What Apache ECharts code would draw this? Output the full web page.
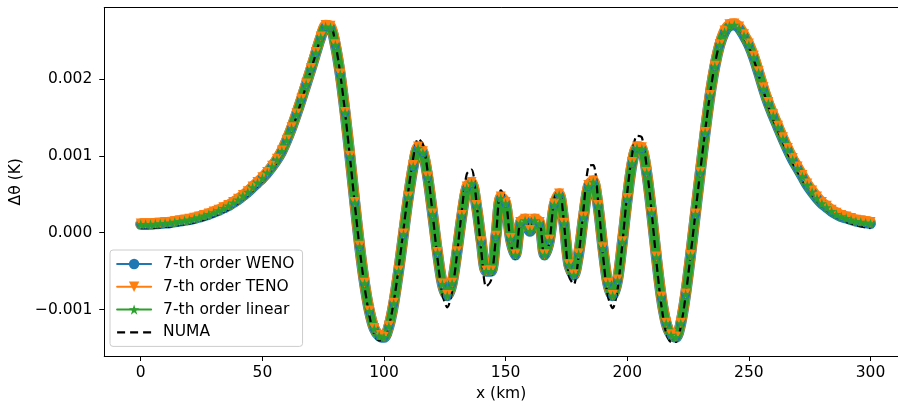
<!DOCTYPE html>
<html>
<head>
<meta charset="utf-8">
<script src="https://cdn.jsdelivr.net/npm/echarts@6.0.0/dist/echarts.min.js"></script>
<style>html,body{margin:0;padding:0;background:#fff;overflow:hidden}#chart{width:898px;height:407px}</style>
</head>
<body>
<div id="chart"></div>
<script>
// x positions (km)
const xKm = [0,2,4,6,8,10,12,14,16,18,20,22,24,26,28,30,32,34,36,38,40,42,44,46,48,50,52,54,56,58,60,62,64,66,68,70,72,74,76,78,80,82,84,86,88,90,92,94,96,98,100,102,104,106,108,110,112,114,116,118,120,122,124,126,128,130,132,134,136,138,140,142,144,146,148,150,152,154,156,158,160,162,164,166,168,170,172,174,176,178,180,182,184,186,188,190,192,194,196,198,200,202,204,206,208,210,212,214,216,218,220,222,224,226,228,230,232,234,236,238,240,242,244,246,248,250,252,254,256,258,260,262,264,266,268,270,272,274,276,278,280,282,284,286,288,290,292,294,296,298,300];
// values in units of 1e-3 K
const wenoVals = [0.11,0.11,0.11,0.115,0.12,0.125,0.13,0.14,0.15,0.16,0.17,0.185,0.20,0.22,0.24,0.265,0.29,0.32,0.35,0.39,0.43,0.48,0.53,0.59,0.65,0.71,0.78,0.86,0.95,1.06,1.20,1.36,1.54,1.73,1.93,2.13,2.34,2.54,2.68,2.67,2.44,2.06,1.56,0.99,0.39,-0.18,-0.66,-1.02,-1.25,-1.34,-1.36,-1.22,-0.92,-0.50,-0.02,0.46,0.86,1.10,1.04,0.72,0.24,-0.26,-0.67,-0.82,-0.66,-0.25,0.22,0.58,0.64,0.35,-0.12,-0.50,-0.50,-0.05,0.45,0.38,-0.08,-0.29,0.12,0.16,0.02,0.16,0.12,-0.29,-0.10,0.36,0.49,0.12,-0.42,-0.55,-0.28,0.20,0.60,0.66,0.35,-0.20,-0.66,-0.82,-0.62,-0.12,0.44,0.90,1.10,1.09,0.78,0.26,-0.32,-0.84,-1.18,-1.33,-1.36,-1.18,-0.80,-0.30,0.24,0.78,1.30,1.78,2.16,2.44,2.61,2.69,2.70,2.66,2.56,2.44,2.28,2.08,1.87,1.68,1.52,1.37,1.22,1.08,0.95,0.84,0.73,0.62,0.53,0.45,0.38,0.33,0.28,0.24,0.21,0.19,0.17,0.15,0.14,0.13,0.12];
const tenoVals = [0.12,0.12,0.12,0.125,0.13,0.135,0.14,0.15,0.16,0.17,0.18,0.195,0.21,0.23,0.25,0.275,0.30,0.33,0.36,0.40,0.44,0.49,0.54,0.60,0.66,0.72,0.79,0.87,0.96,1.07,1.21,1.37,1.55,1.74,1.94,2.14,2.35,2.55,2.70,2.69,2.45,2.07,1.57,1.00,0.40,-0.17,-0.65,-1.01,-1.24,-1.33,-1.35,-1.21,-0.91,-0.49,-0.01,0.47,0.88,1.12,1.06,0.73,0.25,-0.25,-0.66,-0.81,-0.65,-0.24,0.23,0.60,0.66,0.36,-0.11,-0.49,-0.49,-0.04,0.47,0.40,-0.07,-0.28,0.14,0.18,0.04,0.18,0.14,-0.28,-0.09,0.38,0.51,0.13,-0.41,-0.54,-0.27,0.21,0.62,0.68,0.36,-0.19,-0.65,-0.81,-0.61,-0.11,0.45,0.92,1.12,1.11,0.79,0.27,-0.31,-0.83,-1.17,-1.32,-1.35,-1.17,-0.79,-0.29,0.25,0.79,1.31,1.79,2.17,2.45,2.63,2.71,2.72,2.68,2.58,2.46,2.30,2.10,1.89,1.70,1.54,1.39,1.24,1.10,0.97,0.86,0.75,0.64,0.55,0.47,0.40,0.35,0.30,0.26,0.23,0.21,0.19,0.17,0.16,0.15,0.14];
const linearVals = [0.11,0.11,0.11,0.115,0.12,0.125,0.13,0.14,0.15,0.16,0.17,0.185,0.20,0.22,0.24,0.265,0.29,0.32,0.35,0.39,0.43,0.48,0.53,0.59,0.65,0.71,0.78,0.86,0.95,1.06,1.20,1.36,1.54,1.73,1.93,2.13,2.34,2.54,2.68,2.67,2.44,2.06,1.56,0.99,0.39,-0.18,-0.66,-1.02,-1.25,-1.34,-1.36,-1.22,-0.92,-0.50,-0.02,0.46,0.86,1.10,1.04,0.72,0.24,-0.26,-0.67,-0.82,-0.66,-0.25,0.22,0.58,0.64,0.35,-0.12,-0.50,-0.50,-0.05,0.45,0.38,-0.08,-0.29,0.12,0.16,0.02,0.16,0.12,-0.29,-0.10,0.36,0.49,0.12,-0.42,-0.55,-0.28,0.20,0.60,0.66,0.35,-0.20,-0.66,-0.82,-0.62,-0.12,0.44,0.90,1.10,1.09,0.78,0.26,-0.32,-0.84,-1.18,-1.33,-1.36,-1.18,-0.80,-0.30,0.24,0.78,1.30,1.78,2.16,2.44,2.61,2.69,2.70,2.66,2.56,2.44,2.28,2.08,1.87,1.68,1.52,1.37,1.22,1.08,0.95,0.84,0.73,0.62,0.53,0.45,0.38,0.33,0.28,0.24,0.21,0.19,0.17,0.15,0.14,0.13,0.12];
const numaVals = [0.06,0.06,0.06,0.065,0.07,0.075,0.08,0.09,0.10,0.11,0.12,0.135,0.15,0.17,0.19,0.215,0.24,0.27,0.30,0.34,0.38,0.43,0.48,0.54,0.60,0.67,0.74,0.82,0.92,1.03,1.17,1.33,1.51,1.71,1.91,2.12,2.33,2.54,2.68,2.69,2.46,2.07,1.56,0.98,0.37,-0.21,-0.70,-1.08,-1.32,-1.40,-1.39,-1.22,-0.90,-0.46,0.04,0.54,0.97,1.22,1.15,0.78,0.24,-0.34,-0.80,-0.97,-0.76,-0.28,0.29,0.76,0.82,0.40,-0.24,-0.70,-0.62,-0.06,0.55,0.44,-0.12,-0.34,0.16,0.20,0.02,0.20,0.16,-0.33,-0.12,0.44,0.56,0.12,-0.56,-0.67,-0.30,0.30,0.86,0.88,0.42,-0.28,-0.82,-0.98,-0.74,-0.14,0.52,1.02,1.26,1.24,0.85,0.28,-0.38,-0.94,-1.30,-1.42,-1.42,-1.22,-0.82,-0.30,0.25,0.80,1.32,1.80,2.19,2.47,2.65,2.72,2.71,2.65,2.54,2.41,2.25,2.05,1.84,1.64,1.47,1.32,1.17,1.03,0.90,0.79,0.68,0.58,0.49,0.41,0.34,0.29,0.24,0.20,0.17,0.14,0.12,0.10,0.08,0.07,0.06];
const seriesNames = ['7-th order WENO','7-th order TENO','7-th order linear','NUMA'];
const xTicks = [0,50,100,150,200,250,300];
const yTicks = [-1,0,1,2];
const yTickLabels = ['\u22120.001','0.000','0.001','0.002'];

const FONT = 'DejaVu Sans';
const pairs = vals => xKm.map((x, i) => [x, vals[i]]);
const STAR = 'path://M50,0 L61.2,34.5 L97.6,34.5 L68.2,55.9 L79.4,90.5 L50,69.1 L20.6,90.5 L31.8,55.9 L2.4,34.5 L38.8,34.5 Z';
const C = {weno: '#1f77b4', teno: '#ff7f0e', lin: '#2ca02c'};
const X_MIN = -15, X_MAX = 311.3;  // visible window (right spine lies just outside the picture)

const chart = echarts.init(document.getElementById('chart'), null, {renderer: 'canvas'});
chart.setOption({
  animation: false,
  backgroundColor: '#ffffff',
  grid: {left: 103.3, right: 0, top: 7.5, bottom: 51, show: false},
  xAxis: [{
    type: 'value', min: X_MIN, max: X_MAX,
    name: 'x (km)', nameLocation: 'middle', nameGap: 27,
    nameTextStyle: {fontFamily: FONT, fontSize: 15.5, color: '#000', align: 'center'},
    axisLine: {show: true, onZero: false, lineStyle: {color: '#000', width: 1}},
    axisTick: {show: true, inside: false, length: 5, lineStyle: {color: '#000', width: 1}, customValues: xTicks},
    axisLabel: {show: true, margin: 9, fontFamily: FONT, fontSize: 15.5, color: '#000', customValues: xTicks, formatter: v => String(v)},
    splitLine: {show: false}
  }, {
    type: 'value', position: 'top', min: X_MIN, max: X_MAX,
    axisLine: {show: true, onZero: false, lineStyle: {color: '#000', width: 1}},
    axisTick: {show: false}, axisLabel: {show: false}, splitLine: {show: false}
  }],
  yAxis: {
    type: 'value', min: -1.603, max: 2.928,
    name: '\u0394\u03b8 (K)', nameLocation: 'middle', nameGap: 72, nameRotate: 90,
    nameTextStyle: {fontFamily: FONT, fontSize: 15.5, color: '#000'},
    axisLine: {show: true, onZero: false, lineStyle: {color: '#000', width: 1}},
    axisTick: {show: true, inside: false, length: 5, lineStyle: {color: '#000', width: 1}, customValues: yTicks},
    axisLabel: {show: true, margin: 12, fontFamily: FONT, fontSize: 15.5, color: '#000', customValues: yTicks,
      formatter: v => { const i = yTicks.findIndex(t => Math.abs(t - v) < 1e-9); return i >= 0 ? yTickLabels[i] : ''; }},
    splitLine: {show: false}
  },
  legend: {
    left: 110, top: 250, orient: 'vertical',
    backgroundColor: 'rgba(255,255,255,0.8)', borderColor: '#cccccc', borderWidth: 1, borderRadius: 3,
    padding: [6, 8, 6, 6], itemWidth: 34, itemHeight: 13, itemGap: 6.8,
    textStyle: {fontFamily: FONT, fontSize: 15.5, color: '#000', lineHeight: 16, padding: [0, 0, 0, 7]},
    lineStyle: {width: 2},
    data: [
      {name: seriesNames[0], lineStyle: {width: 2, color: C.weno}},
      {name: seriesNames[1], lineStyle: {width: 2, color: C.teno}},
      {name: seriesNames[2], lineStyle: {width: 2, color: C.lin}},
      {name: seriesNames[3], lineStyle: {width: 2.2, color: '#000', type: [8, 5]}, itemStyle: {color: 'rgba(0,0,0,0)', borderWidth: 0}}
    ]
  },
  series: [
    {name: seriesNames[0], type: 'line', data: pairs(wenoVals), symbol: 'circle', symbolSize: 9, showAllSymbol: true, smooth: 0.3,
     lineStyle: {color: C.weno, width: 11, cap: 'round', join: 'round'}, itemStyle: {color: C.weno}, emphasis: {disabled: true}},
    {name: seriesNames[1], type: 'line', data: pairs(tenoVals), symbol: 'triangle', symbolRotate: 180, symbolSize: 10, showAllSymbol: true, smooth: 0.3,
     lineStyle: {color: C.teno, width: 10.5, cap: 'round', join: 'round'}, itemStyle: {color: C.teno}, emphasis: {disabled: true}},
    {name: seriesNames[2], type: 'line', data: pairs(linearVals), symbol: STAR, symbolSize: 10, showAllSymbol: true, smooth: 0.3,
     lineStyle: {color: C.lin, width: 9, cap: 'round', join: 'round'}, itemStyle: {color: C.lin}, emphasis: {disabled: true}},
    {name: seriesNames[3], type: 'line', data: pairs(numaVals), symbol: 'none', smooth: 0.3,
     lineStyle: {color: '#000', width: 2.2, type: [8, 4]}, itemStyle: {color: '#000'}, emphasis: {disabled: true}}
  ]
});
</script>
</body>
</html>
